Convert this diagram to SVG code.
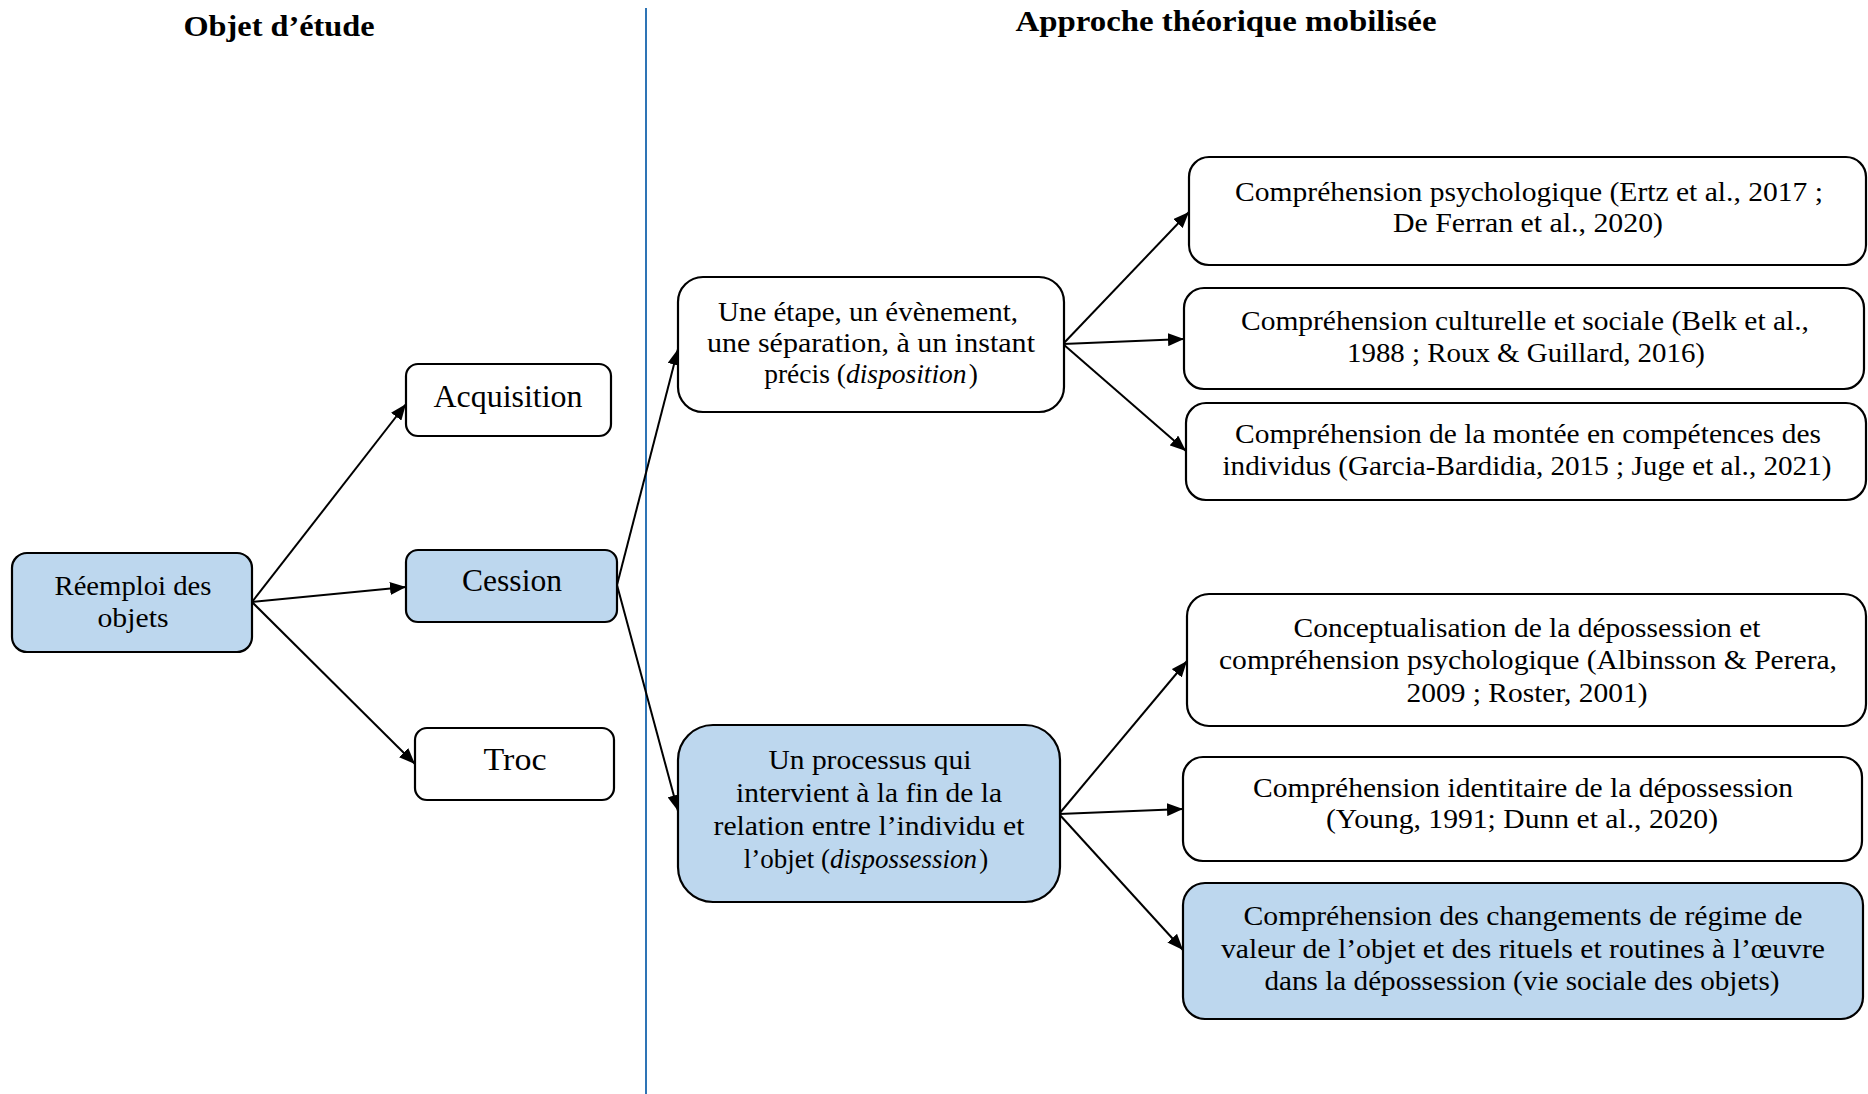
<svg xmlns="http://www.w3.org/2000/svg" width="1868" height="1094" viewBox="0 0 1868 1094">
<defs>
<style>
.box{fill:#ffffff;stroke:#000;stroke-width:2.2}
.blue{fill:#BDD7EE;stroke:#000;stroke-width:2.2}
.t{font-family:"Liberation Serif","Times New Roman",serif;font-size:28px;fill:#000;text-anchor:middle}
.tl{font-family:"Liberation Serif","Times New Roman",serif;font-size:31px;fill:#000;text-anchor:middle}
.h{font-family:"Liberation Serif","Times New Roman",serif;font-size:30px;font-weight:bold;fill:#000;text-anchor:middle}
.c{stroke:#000;stroke-width:2;fill:none;marker-end:url(#ah)}
</style>
<marker id="ah" markerUnits="userSpaceOnUse" markerWidth="17" markerHeight="13" refX="16" refY="6.5" orient="auto">
<path d="M0,0 L16,6.5 L0,13 Z" fill="#000"/>
</marker>
</defs>
<rect width="1868" height="1094" fill="#fff"/>
<text class="h" x="279" y="36" textLength="191" lengthAdjust="spacingAndGlyphs">Objet d’étude</text>
<text class="h" x="1226" y="31" textLength="421" lengthAdjust="spacingAndGlyphs">Approche théorique mobilisée</text>
<line x1="646" y1="8" x2="646" y2="1094" stroke="#2E74B5" stroke-width="2"/>

<g id="connectors">
<line class="c" x1="252" y1="602" x2="406" y2="404"/>
<line class="c" x1="252" y1="602" x2="406" y2="587"/>
<line class="c" x1="252" y1="602" x2="415" y2="764"/>
<line class="c" x1="617" y1="585" x2="678" y2="349"/>
<line class="c" x1="617" y1="585" x2="678" y2="811"/>
<line class="c" x1="1063" y1="344" x2="1189" y2="212"/>
<line class="c" x1="1063" y1="344" x2="1184" y2="339"/>
<line class="c" x1="1063" y1="344" x2="1186" y2="451"/>
<line class="c" x1="1059" y1="814" x2="1187" y2="661"/>
<line class="c" x1="1059" y1="814" x2="1183" y2="809"/>
<line class="c" x1="1059" y1="814" x2="1183" y2="950"/>
</g>

<g id="reemploi">
<rect class="blue" x="12" y="553" width="240" height="99" rx="15"/>
<text class="t" x="133" y="595" textLength="157" lengthAdjust="spacingAndGlyphs">Réemploi des</text>
<text class="t" x="133" y="627" textLength="71" lengthAdjust="spacingAndGlyphs">objets</text>
</g>
<g id="acquisition">
<rect class="box" x="406" y="364" width="205" height="72" rx="12"/>
<text class="tl" x="508" y="407" textLength="149" lengthAdjust="spacingAndGlyphs">Acquisition</text>
</g>
<g id="cession">
<rect class="blue" x="406" y="550" width="211" height="72" rx="12"/>
<text class="tl" x="512" y="591" textLength="100" lengthAdjust="spacingAndGlyphs">Cession</text>
</g>
<g id="troc">
<rect class="box" x="415" y="728" width="199" height="72" rx="12"/>
<text class="tl" x="515" y="770" textLength="63" lengthAdjust="spacingAndGlyphs">Troc</text>
</g>

<g id="disposition">
<rect class="box" x="678" y="277" width="386" height="135" rx="25"/>
<text class="t" x="868" y="321" textLength="300" lengthAdjust="spacingAndGlyphs">Une étape, un évènement,</text>
<text class="t" x="871" y="352" textLength="328" lengthAdjust="spacingAndGlyphs">une séparation, à un instant</text>
<text class="t" x="871" y="383" style="font-size:27.5px">précis (<tspan font-style="italic">disposition</tspan><tspan dx="2">)</tspan></text>
</g>
<g id="dispossession">
<rect class="blue" x="678" y="725" width="382" height="177" rx="35"/>
<text class="t" x="870" y="769" textLength="203" lengthAdjust="spacingAndGlyphs">Un processus qui</text>
<text class="t" x="869" y="802" textLength="266" lengthAdjust="spacingAndGlyphs">intervient à la fin de la</text>
<text class="t" x="869" y="835" textLength="311" lengthAdjust="spacingAndGlyphs">relation entre l’individu et</text>
<text class="t" x="866" y="868" style="font-size:27px">l’objet (<tspan font-style="italic">dispossession</tspan><tspan dx="2">)</tspan></text>
</g>

<g id="psychologique">
<rect class="box" x="1189" y="157" width="677" height="108" rx="20"/>
<text class="t" x="1529" y="201" textLength="588" lengthAdjust="spacingAndGlyphs">Compréhension psychologique (Ertz et al., 2017 ;</text>
<text class="t" x="1528" y="232" textLength="270" lengthAdjust="spacingAndGlyphs">De Ferran et al., 2020)</text>
</g>
<g id="culturelle">
<rect class="box" x="1184" y="288" width="680" height="101" rx="20"/>
<text class="t" x="1525" y="330" textLength="568" lengthAdjust="spacingAndGlyphs">Compréhension culturelle et sociale (Belk et al.,</text>
<text class="t" x="1526" y="362" textLength="358" lengthAdjust="spacingAndGlyphs">1988 ; Roux &amp; Guillard, 2016)</text>
</g>
<g id="competences">
<rect class="box" x="1186" y="403" width="680" height="97" rx="20"/>
<text class="t" x="1528" y="443" textLength="586" lengthAdjust="spacingAndGlyphs">Compréhension de la montée en compétences des</text>
<text class="t" x="1527" y="475" textLength="609" lengthAdjust="spacingAndGlyphs">individus (Garcia-Bardidia, 2015 ; Juge et al., 2021)</text>
</g>
<g id="conceptualisation">
<rect class="box" x="1187" y="594" width="679" height="132" rx="22"/>
<text class="t" x="1527" y="637" textLength="467" lengthAdjust="spacingAndGlyphs">Conceptualisation de la dépossession et</text>
<text class="t" x="1528" y="669" textLength="618" lengthAdjust="spacingAndGlyphs">compréhension psychologique (Albinsson &amp; Perera,</text>
<text class="t" x="1527" y="702" textLength="241" lengthAdjust="spacingAndGlyphs">2009 ; Roster, 2001)</text>
</g>
<g id="identitaire">
<rect class="box" x="1183" y="757" width="679" height="104" rx="20"/>
<text class="t" x="1523" y="797" textLength="540" lengthAdjust="spacingAndGlyphs">Compréhension identitaire de la dépossession</text>
<text class="t" x="1522" y="828" textLength="392" lengthAdjust="spacingAndGlyphs">(Young, 1991; Dunn et al., 2020)</text>
</g>
<g id="vie-sociale">
<rect class="blue" x="1183" y="883" width="680" height="136" rx="22"/>
<text class="t" x="1523" y="925" textLength="559" lengthAdjust="spacingAndGlyphs">Compréhension des changements de régime de</text>
<text class="t" x="1523" y="958" textLength="604" lengthAdjust="spacingAndGlyphs">valeur de l’objet et des rituels et routines à l’œuvre</text>
<text class="t" x="1522" y="990" textLength="515" lengthAdjust="spacingAndGlyphs">dans la dépossession (vie sociale des objets)</text>
</g>
</svg>
